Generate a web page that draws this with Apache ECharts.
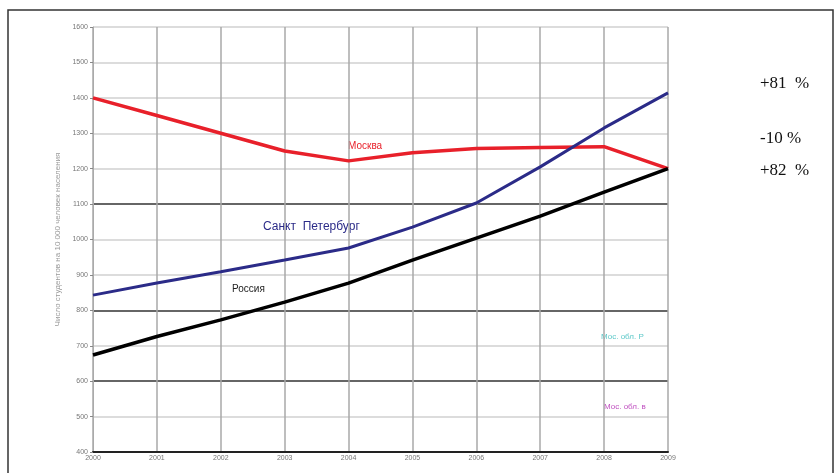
<!DOCTYPE html>
<html>
<head>
<meta charset="utf-8">
<script src="https://cdn.jsdelivr.net/npm/echarts@6/dist/echarts.min.js"></script>
<style>
  html, body { margin: 0; padding: 0; background: #fff; }
  #chart { width: 840px; height: 473px; }
</style>
</head>
<body>
<div id="chart"></div>
<script>
// данные
const years = ['2000', '2001', '2002', '2003', '2004', '2005', '2006', '2007', '2008', '2009'];
const moscow = [1400, 1350, 1300, 1250, 1222, 1245, 1257, 1260, 1262, 1200];
const spb = [843, 877, 909, 942, 976, 1035, 1103, 1205, 1315, 1414];
const russia = [674, 726, 773, 823, 877, 942, 1004, 1066, 1134, 1200];
const changes = ['+81  %', '-10 %', '+82  %'];

const chart = echarts.init(document.getElementById('chart'));

// тёмные линии сетки на 400, 600, 800, 1100
const splitColors = ['#222', '#d0d0d0', '#333', '#d0d0d0', '#333', '#d0d0d0', '#d0d0d0', '#333', '#d0d0d0', '#d0d0d0', '#d0d0d0', '#d0d0d0', '#d0d0d0'];

const option = {
  animation: false,
  grid: { left: 93, right: 172, top: 27, bottom: 21 },
  xAxis: {
    type: 'category',
    data: years,
    boundaryGap: false,
    axisLine: { lineStyle: { color: '#222', width: 2 } },
    axisTick: { show: false },
    axisLabel: { fontSize: 7, color: '#777', margin: 3, fontFamily: 'Liberation Sans' },
    splitLine: { show: true, lineStyle: { color: '#a8a8a8', width: 1.5 } }
  },
  yAxis: {
    type: 'value',
    min: 400,
    max: 1600,
    interval: 100,
    name: 'Число студентов на 10 000 человек населения',
    nameLocation: 'middle',
    nameGap: 24,
    nameTextStyle: { fontSize: 8, color: '#999', fontFamily: 'Liberation Sans' },
    axisLine: { show: true, lineStyle: { color: '#aaa', width: 1 } },
    axisTick: { show: true, length: 3, lineStyle: { color: '#888' } },
    axisLabel: { fontSize: 7, color: '#777', margin: 5, fontFamily: 'Liberation Sans', formatter: v => String(v) },
    splitLine: { lineStyle: { color: splitColors, width: 1.5 } }
  },
  series: [
    {
      name: 'Москва', type: 'line', data: moscow, symbol: 'none',
      lineStyle: { color: '#e8202a', width: 3.5 }
    },
    {
      name: 'Санкт Петербург', type: 'line', data: spb, symbol: 'none',
      lineStyle: { color: '#2b2b88', width: 3 }
    },
    {
      name: 'Россия', type: 'line', data: russia, symbol: 'none',
      lineStyle: { color: '#000', width: 3.5 }
    }
  ],
  graphic: [
    { type: 'rect', shape: { x: 8, y: 10, width: 825, height: 475 }, style: { fill: 'none', stroke: '#333', lineWidth: 1.5 }, z: 100 },
    { type: 'text', left: 348, top: 141, style: { text: 'Москва', fill: '#e8202a', font: '10px "Liberation Sans"' } },
    { type: 'text', left: 263, top: 221, style: { text: 'Санкт  Петербург', fill: '#2b2b88', font: '12px "Liberation Sans"' } },
    { type: 'text', left: 232, top: 284, style: { text: 'Россия', fill: '#222', font: '10px "Liberation Sans"' } },
    { type: 'text', left: 601, top: 333, style: { text: 'Мос. обл. Р', fill: '#5cc8c8', font: '8px "Liberation Sans"' } },
    { type: 'text', left: 604, top: 403, style: { text: 'Мос. обл. в', fill: '#c050c0', font: '8px "Liberation Sans"' } },
    { type: 'text', left: 760, top: 75, style: { text: changes[0], fill: '#111', font: '17px "Liberation Serif"' } },
    { type: 'text', left: 760, top: 130, style: { text: changes[1], fill: '#111', font: '17px "Liberation Serif"' } },
    { type: 'text', left: 760, top: 162, style: { text: changes[2], fill: '#111', font: '17px "Liberation Serif"' } }
  ]
};

chart.setOption(option);
</script>
</body>
</html>
